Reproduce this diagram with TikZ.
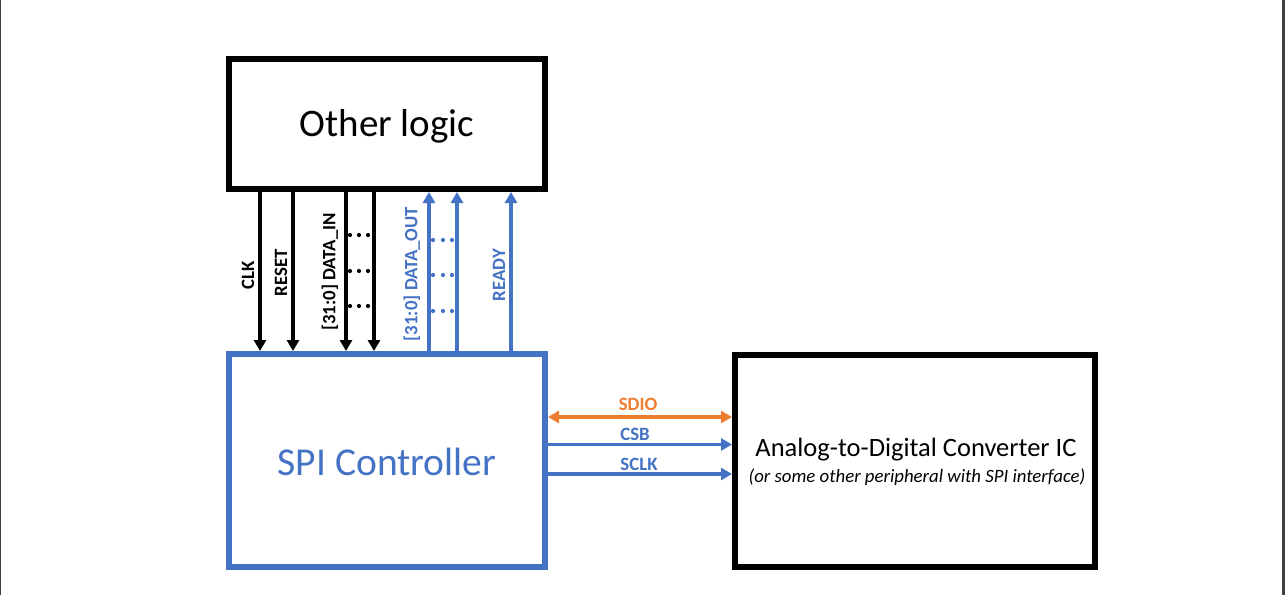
\documentclass[tikz,border=0pt]{standalone}
\usepackage{fontspec}
\setmainfont{Carlito}
\usetikzlibrary{arrows.meta}
\definecolor{ofblue}{HTML}{4472C4}
\definecolor{oforange}{HTML}{ED7D31}
\definecolor{edgegray}{HTML}{3C4043}
\tikzset{
  blk/.style={draw, line width=6pt, minimum width=#1, inner sep=0pt},
  sig/.style={line width=3.5pt, -{Triangle[length=11pt,width=12pt]}},
  sigboth/.style={line width=3.5pt, {Triangle[length=11pt,width=12pt]}-{Triangle[length=11pt,width=12pt]}},
  lbl/.style={font=\fontsize{18.8}{20}\selectfont\bfseries, inner sep=0pt},
  vlbl/.style={lbl, rotate=90},
  dotc/.style={circle, fill, inner sep=0pt, minimum size=4.2pt},
}
\begin{document}
\begin{tikzpicture}[x=1pt,y=-1pt]
\useasboundingbox (0,0) rectangle (1285,595);
\fill[white] (0,0) rectangle (1285,595);
\fill[edgegray] (0,0) rectangle (1.2,595);
\fill[edgegray] (1281.5,0) rectangle (1285,595);

% blocks
\node[blk=316pt, minimum height=130pt] (other) at (387,124) {};
\node[font=\fontsize{39}{44}\selectfont] (othert) at (387,126) {Other logic};
\node[blk=316pt, minimum height=213pt, draw=ofblue] (spi) at (387,460.5) {};
\node[font=\fontsize{39.5}{44}\selectfont, text=ofblue] (spit) at (387,462) {SPI Controller};
\node[blk=360pt, minimum height=212pt] (adc) at (915,461) {};
\node[font=\fontsize{26.5}{30}\selectfont] (adct) at (916,450) {Analog-to-Digital Converter IC};
\node[font=\fontsize{18.8}{20}\selectfont\itshape] (adcs) at (917,477.5) {(or some other peripheral with SPI interface)};

% column positions
\coordinate (xclk) at (260,0);
\coordinate (xrst) at (293,0);
\coordinate (xdi1) at (346,0);
\coordinate (xdi2) at (374,0);
\coordinate (xdo1) at (429,0);
\coordinate (xdo2) at (457,0);
\coordinate (xrdy) at (511,0);

% downward (black) signals
\draw[sig] (other.south -| xclk) -- (spi.north -| xclk);
\draw[sig] (other.south -| xrst) -- (spi.north -| xrst);
\draw[sig] (other.south -| xdi1) -- (spi.north -| xdi1);
\draw[sig] (other.south -| xdi2) -- (spi.north -| xdi2);
% upward (blue) signals
\draw[sig, ofblue] (spi.north -| xdo1) -- (other.south -| xdo1);
\draw[sig, ofblue] (spi.north -| xdo2) -- (other.south -| xdo2);
\draw[sig, ofblue] (spi.north -| xrdy) -- (other.south -| xrdy);

% vertical labels
\node[vlbl] (lclk) at (248,275) {CLK};
\node[vlbl] (lrst) at (281,273) {RESET};
\node[vlbl] (ldin) at (330,272) {[31:0] DATA\_IN};
\node[vlbl, text=ofblue] (ldout) at (412,274) {[31:0] DATA\_OUT};
\node[vlbl, text=ofblue] (lrdy) at (499,275) {READY};

% ellipsis dots
\foreach \yy in {235,271,306}
  \foreach \xx in {350,359,368}
    \node[dotc] at (\xx,\yy) {};
\foreach \yy in {240,275,311}
  \foreach \xx in {433,443,452}
    \node[dotc, fill=ofblue] at (\xx,\yy) {};

% SPI bus
\coordinate (ysdio) at (0,417);
\coordinate (ycsb) at (0,444.5);
\coordinate (ysclk) at (0,474);
\draw[sigboth, oforange] (spi.east |- ysdio) -- (adc.west |- ysdio);
\draw[sig, ofblue] (spi.east |- ycsb) -- (adc.west |- ycsb);
\draw[sig, ofblue] (spi.east |- ysclk) -- (adc.west |- ysclk);
\node[lbl, text=oforange] (lsdio) at (638,404) {SDIO};
\node[lbl, text=ofblue] (lcsb) at (635,434) {CSB};
\node[lbl, text=ofblue] (lsclk) at (639,464) {SCLK};
\end{tikzpicture}
\end{document}
